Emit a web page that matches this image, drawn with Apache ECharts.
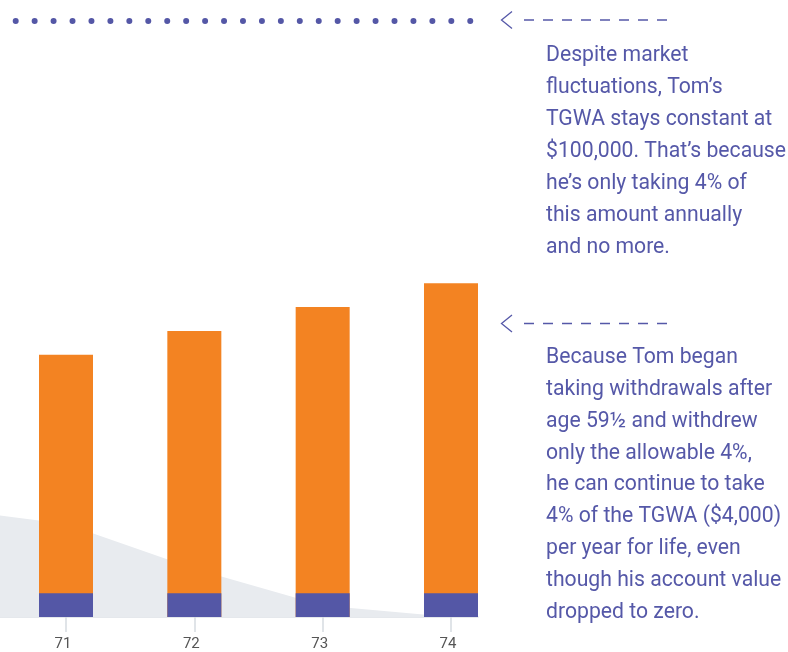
<!DOCTYPE html>
<html>
<head>
<meta charset="utf-8">
<script src="https://cdn.jsdelivr.net/npm/echarts@6/dist/echarts.min.js"></script>
<style>
  html, body { margin: 0; padding: 0; background: #fff; }
  #chart { width: 788px; height: 652px; }
</style>
</head>
<body>
<div id="chart"></div>
<script>
// ages shown on the x axis
const ages = [71, 72, 73, 74];
// account value (grey area), age 70 is off the left edge
const valueAges = [70, 71, 72, 73, 74];
const accountValue = [18400, 15600, 8100, 1950, 0];
// withdrawals: this year (purple) and earlier years (orange)
const yearWithdrawal = [4000, 4000, 4000, 4000];
const priorWithdrawals = [40000, 44000, 48000, 52000];
// guaranteed withdrawal amount (dotted line)
const tgwa = 100000;

const purple = '#5457a6';
const orange = '#f38322';
const textColor = '#5558a8';

const note1 = [
  'Despite market',
  'fluctuations, Tom\u2019s',
  'TGWA stays constant at',
  '$100,000. That\u2019s because',
  'he\u2019s only taking 4% of',
  'this amount annually',
  'and no more.'
];
const note2 = [
  'Because Tom began',
  'taking withdrawals after',
  'age 59\u00bd and withdrew',
  'only the allowable 4%,',
  'he can continue to take',
  '4% of the TGWA ($4,000)',
  'per year for life, even',
  'though his account value',
  'dropped to zero.'
];

// total height of each bar = earlier years + this year
const totalWithdrawals = priorWithdrawals.map((v, i) => v + yearWithdrawal[i]);

const chart = echarts.init(document.getElementById('chart'));

// arrow with dashed tail pointing left
function arrow(y) {
  return [
    {
      type: 'polyline',
      shape: { points: [[512, y - 8.5], [501.5, y], [512, y + 8.5]] },
      style: { stroke: textColor, lineWidth: 1.3, fill: null }
    },
    {
      type: 'line',
      shape: { x1: 524, y1: y, x2: 668, y2: y },
      style: { stroke: textColor, lineWidth: 1.5, lineDash: [10, 9] }
    }
  ];
}

const option = {
  animation: false,
  grid: { left: 0, right: 310, top: 21, bottom: 35 },
  xAxis: {
    type: 'value',
    min: 70.4857,
    max: 74.2104,
    splitLine: { show: false },
    axisLine: { show: true, lineStyle: { color: '#dde1e6', width: 1.5 } },
    axisTick: {
      show: true,
      length: 15,
      customValues: ages,
      lineStyle: { color: '#d6dbe1', width: 1.5 }
    },
    axisLabel: {
      customValues: ages,
      margin: 20,
      padding: [0, 6, 0, 0], // labels sit a little left of the bars
      color: '#555555',
      fontSize: 15,
      fontFamily: 'Roboto'
    }
  },
  yAxis: {
    type: 'value',
    min: 0,
    max: 100000,
    show: false
  },
  series: [
    {
      name: 'Account value',
      type: 'line',
      data: valueAges.map((a, i) => [a, accountValue[i]]),
      symbol: 'none',
      lineStyle: { width: 0 },
      areaStyle: { color: '#e8ebef', opacity: 1 },
      z: 1,
      markLine: {
        silent: true,
        symbol: 'none',
        label: { show: false },
        lineStyle: {
          color: purple,
          width: 6,
          type: [0, 18.94],
          cap: 'round',
          dashOffset: 3.24
        },
        data: [{ yAxis: tgwa }]
      }
    },
    {
      name: 'Earlier years',
      type: 'bar',
      barWidth: 54,
      barGap: '-100%',
      data: ages.map((a, i) => [a, totalWithdrawals[i]]),
      itemStyle: { color: orange },
      z: 3
    },
    {
      name: 'This year',
      type: 'bar',
      barWidth: 54,
      barGap: '-100%',
      data: ages.map((a, i) => [a, yearWithdrawal[i]]),
      itemStyle: { color: purple },
      z: 4
    }
  ],
  graphic: [
    ...arrow(20),
    ...arrow(323.5),
    {
      type: 'text',
      left: 546,
      top: 40,
      style: {
        text: note1.join('\n'),
        font: '21.2px Roboto',
        lineHeight: 32,
        fill: textColor
      }
    },
    {
      type: 'text',
      left: 546,
      top: 342,
      style: {
        text: note2.join('\n'),
        font: '21.2px Roboto',
        lineHeight: 31.8,
        fill: textColor
      }
    }
  ]
};

chart.setOption(option);
</script>
</body>
</html>
